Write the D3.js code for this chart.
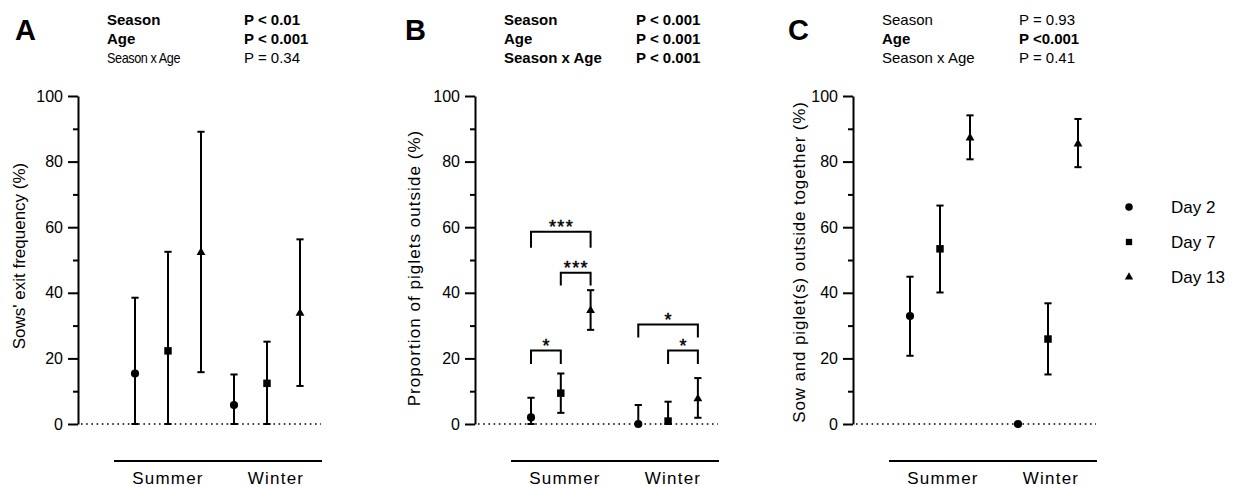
<!DOCTYPE html>
<html>
<head>
<meta charset="utf-8">
<script src="https://cdnjs.cloudflare.com/ajax/libs/d3/7.8.5/d3.min.js"></script>
<style>
  body { margin: 0; background: #fff; }
  text { font-family: "Liberation Sans", Arial, sans-serif; fill: #000; }
</style>
</head>
<body>
<div id="root"></div>
<script>
var width = 1233;
var height = 487;

// data
var seasons = ["Summer", "Winter"];
var days = ["Day 2", "Day 7", "Day 13"];
var yTicks = [0, 20, 40, 60, 80, 100];

// values ordered Summer D2, D7, D13, Winter D2, D7, D13
var meanA = [15.4, 22.3, 52.3, 5.8, 12.4, 33.8];
var upperA = [38.5, 52.5, 89.1, 15.1, 25.1, 56.3];
var lowerA = [0, 0, 15.8, 0, 0, 11.6];

var meanB = [2.0, 9.4, 34.6, 0, 0.9, 7.7];
var upperB = [8.0, 15.4, 40.8, 5.8, 6.8, 14.0];
var lowerB = [0, 3.4, 28.7, 0, 0, 1.9];

var meanC = [32.9, 53.4, 87.2, 0, 25.9, 85.4];
var upperC = [44.9, 66.6, 94.1, null, 36.8, 93.0];
var lowerC = [20.8, 40.1, 80.7, null, 15.1, 78.3];

var statTerms = ["Season", "Age", "Season x Age"];
var pA = ["P < 0.01", "P < 0.001", "P = 0.34"];
var boldA = [true, true, false];
var pB = ["P < 0.001", "P < 0.001", "P < 0.001"];
var boldB = [true, true, true];
var pC = ["P = 0.93", "P <0.001", "P = 0.41"];
var boldC = [false, true, false];

// significance brackets in panel B: [from index, to index, top value, leg end value, label]
var bracketsB = [
  [0, 2, 58.6, 53.7, "***"],
  [1, 2, 46.1, 42.2, "***"],
  [0, 1, 22.4, 18.3, "*"],
  [3, 5, 30.3, 26.4, "*"],
  [4, 5, 22.4, 18.3, "*"]
];

var yTitles = [
  "Sows' exit frequency (%)",
  "Proportion of piglets outside (%)",
  "Sow and piglet(s) outside together (%)"
];

var svg = d3
  .select("#root")
  .append("svg")
  .attr("width", width)
  .attr("height", height);

var yScale = d3.scaleLinear().domain([0, 100]).range([424, 96]);

var symbols = [d3.symbolCircle, d3.symbolSquare, d3.symbolTriangle];
var symbolSizes = [52, 56, 34];

function drawPanel(o) {
  var g = svg.append("g");
  var ax = o.axisX;

  // x positions of the six groups
  var idx = [];
  seasons.forEach((s, si) => {
    days.forEach((d, di) => idx.push(si * 3 + di + si * o.gap));
  });
  var xScale = d3
    .scaleLinear()
    .domain([0, 5 + o.gap])
    .range([ax + o.first, ax + o.first + o.step * (5 + o.gap)]);

  // panel letter + stats
  g.append("text")
    .attr("x", ax + o.letterDx)
    .attr("y", 40)
    .attr("font-size", 29)
    .attr("font-weight", "bold")
    .text(o.letter);

  statTerms.forEach((t, i) => {
    var tt = g
      .append("text")
      .attr("x", ax + 29)
      .attr("y", 25.3 + i * 19)
      .attr("font-size", 15)
      .attr("font-weight", o.bold[i] ? "bold" : "normal")
      .text(t);
    if (o.condensed && i == 2) {
      tt.attr("textLength", 73).attr("lengthAdjust", "spacingAndGlyphs").attr("letter-spacing", -0.5);
    }
    g.append("text")
      .attr("x", ax + o.pDx)
      .attr("y", 25.3 + i * 19)
      .attr("font-size", 15)
      .attr("font-weight", o.bold[i] ? "bold" : "normal")
      .text(o.p[i]);
  });

  // y axis
  var yAxis = d3.axisLeft(yScale).tickValues(yTicks).tickSize(10).tickSizeOuter(0).tickPadding(5);
  var ya = g.append("g").attr("transform", "translate(" + ax + ",0)").call(yAxis);
  ya.select(".domain").attr("stroke-width", 2);
  ya.selectAll(".tick line").attr("stroke-width", 2);
  ya.selectAll("text").attr("font-size", 16).attr("font-family", "Liberation Sans, Arial, sans-serif");

  var minor = d3.axisLeft(yScale).tickValues(d3.range(10, 100, 20)).tickSize(5).tickFormat("");
  var ym = g.append("g").attr("transform", "translate(" + ax + ",0)").call(minor);
  ym.select(".domain").remove();
  ym.selectAll(".tick line").attr("stroke-width", 2);

  g.append("text")
    .attr("transform", "translate(" + (ax + o.titleDx) + "," + o.titleY + ") rotate(-90)")
    .attr("text-anchor", "middle")
    .attr("font-size", 17)
    .attr("letter-spacing", o.titleSpacing)
    .text(o.title);

  // dotted zero line
  g.append("line")
    .attr("x1", ax + 3)
    .attr("x2", ax + 243)
    .attr("y1", yScale(0))
    .attr("y2", yScale(0))
    .attr("stroke", "#000")
    .attr("stroke-width", 1.6)
    .attr("stroke-dasharray", "1.6,3.6");

  // season line + labels
  g.append("line")
    .attr("x1", ax + 36)
    .attr("x2", ax + 244)
    .attr("y1", 461)
    .attr("y2", 461)
    .attr("stroke", "#000")
    .attr("stroke-width", 2.2);
  seasons.forEach((s, si) => {
    g.append("text")
      .attr("x", ax + (si == 0 ? 90 : 198))
      .attr("y", 484)
      .attr("text-anchor", "middle")
      .attr("font-size", 17)
      .attr("letter-spacing", 1.2)
      .text(s);
  });

  // error bars
  var cap = 3.6;
  o.mean.forEach((m, i) => {
    var x = xScale(idx[i]);
    if (o.upper[i] != null) {
      var bar = g.append("g").attr("stroke", "#000").attr("stroke-width", 2);
      bar.append("line").attr("x1", x).attr("x2", x).attr("y1", yScale(o.lower[i])).attr("y2", yScale(o.upper[i]));
      bar.append("line").attr("x1", x - cap).attr("x2", x + cap).attr("y1", yScale(o.upper[i])).attr("y2", yScale(o.upper[i]));
      bar.append("line").attr("x1", x - cap).attr("x2", x + cap).attr("y1", yScale(o.lower[i])).attr("y2", yScale(o.lower[i]));
    }
    g.append("path")
      .attr("transform", "translate(" + x + "," + yScale(m) + ")")
      .attr("d", d3.symbol().type(symbols[i % 3]).size(symbolSizes[i % 3]))
      .attr("fill", "#000");
  });

  // brackets
  (o.brackets || []).forEach((b) => {
    var x1 = xScale(idx[b[0]]);
    var x2 = xScale(idx[b[1]]);
    var yt = yScale(b[2]);
    var yl = yScale(b[3]);
    g.append("path")
      .attr("d", "M" + x1 + "," + yl + "V" + yt + "H" + x2 + "V" + yl)
      .attr("fill", "none")
      .attr("stroke", "#000")
      .attr("stroke-width", 2);
    g.append("text")
      .attr("x", (x1 + x2) / 2 + 0.7)
      .attr("y", yt + 1.5)
      .attr("text-anchor", "middle")
      .attr("font-size", 18)
      .attr("letter-spacing", 1.4)
      .attr("stroke", "#000")
      .attr("stroke-width", 0.5)
      .text(b[4]);
  });
}

drawPanel({
  letter: "A", axisX: 78, letterDx: -63, pDx: 166, titleDx: -53, titleY: 256, titleSpacing: 0,
  first: 57, step: 33, gap: 0,
  mean: meanA, upper: upperA, lower: lowerA,
  p: pA, bold: boldA, condensed: true, title: yTitles[0]
});
drawPanel({
  letter: "B", axisX: 475, letterDx: -70, pDx: 161, titleDx: -55, titleY: 268, titleSpacing: 1.05,
  first: 56, step: 29.8, gap: 0.6,
  mean: meanB, upper: upperB, lower: lowerB,
  p: pB, bold: boldB, title: yTitles[1], brackets: bracketsB
});
drawPanel({
  letter: "C", axisX: 853, letterDx: -65, pDx: 166, titleDx: -48, titleY: 262, titleSpacing: 0.85,
  first: 57, step: 30, gap: 0.6,
  mean: meanC, upper: upperC, lower: lowerC,
  p: pC, bold: boldC, title: yTitles[2]
});

// legend
var legend = svg.append("g").attr("id", "legend");
var legendY = d3.scalePoint().domain(days).range([207, 277]);
days.forEach((d, i) => {
  legend
    .append("path")
    .attr("transform", "translate(1129," + legendY(d) + ")")
    .attr("d", d3.symbol().type(symbols[i]).size([44, 40, 30][i]))
    .attr("fill", "#000");
  legend
    .append("text")
    .attr("x", 1171)
    .attr("y", legendY(d) + 6)
    .attr("font-size", 17)
    .text(d);
});
</script>
</body>
</html>
